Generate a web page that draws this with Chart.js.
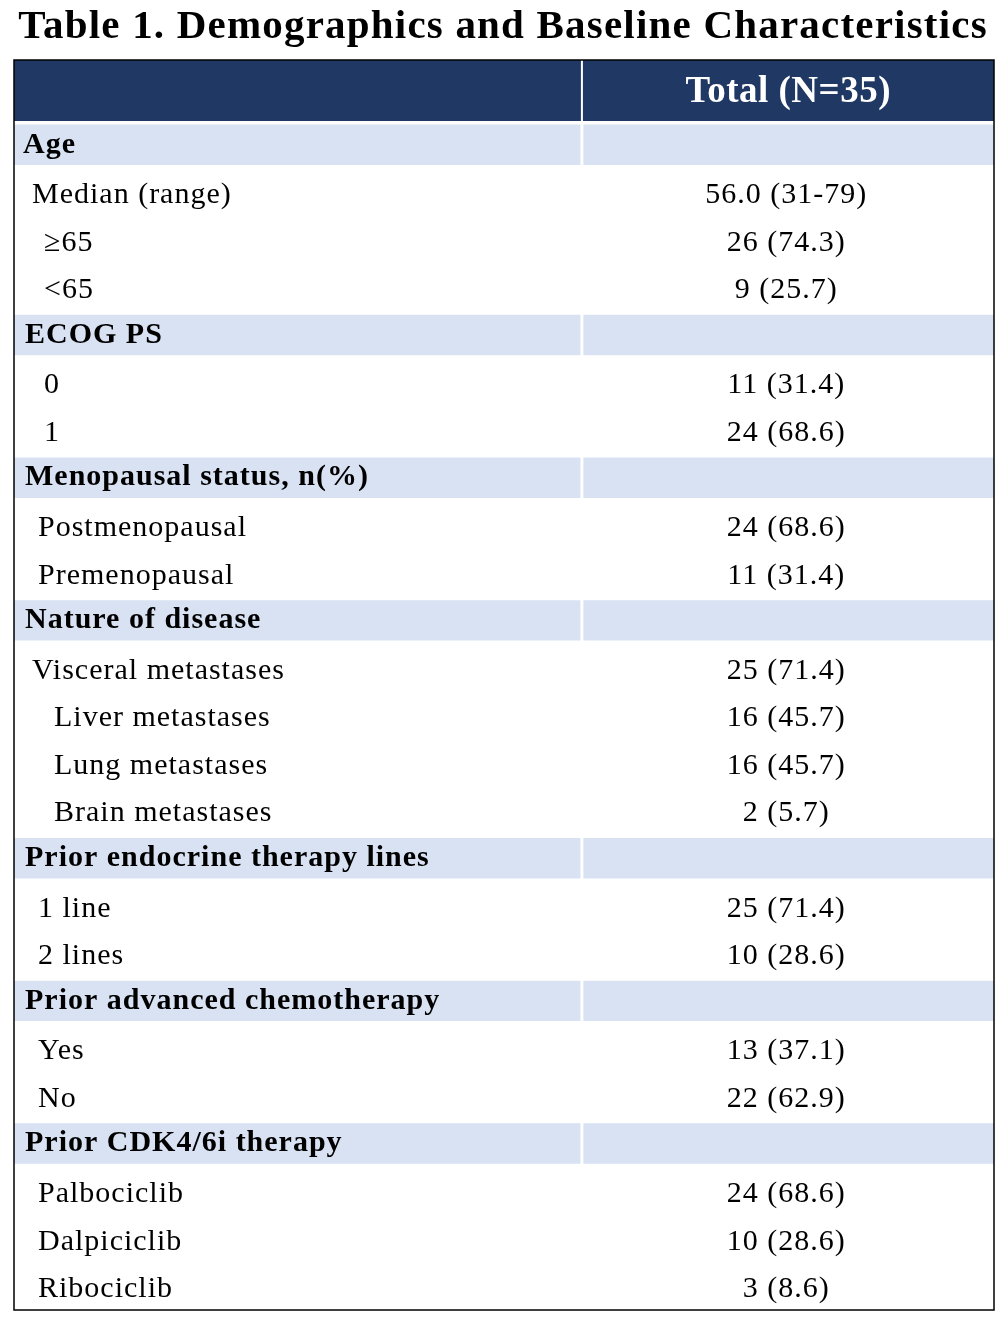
<!DOCTYPE html>
<html><head><meta charset="utf-8">
<script src="https://cdn.jsdelivr.net/npm/chart.js@4/dist/chart.umd.min.js"></script>
<style>html,body{margin:0;padding:0;background:#fff}#wrap{width:1008px;height:1318px;position:relative}</style>
</head><body><div id="wrap"><canvas id="c"></canvas></div>
<script>
const title = "Table 1. Demographics and Baseline Characteristics";
const headerLabel = "Total (N=35)";
const rowLabels = ["Age","Median (range)","≥65","<65","ECOG PS","0","1","Menopausal status, n(%)","Postmenopausal","Premenopausal","Nature of disease","Visceral metastases","Liver metastases","Lung metastases","Brain metastases","Prior endocrine therapy lines","1 line","2 lines","Prior advanced chemotherapy","Yes","No","Prior CDK4/6i therapy","Palbociclib","Dalpiciclib","Ribociclib"];
const rowValues = ["","56.0 (31-79)","26 (74.3)","9 (25.7)","","11 (31.4)","24 (68.6)","","24 (68.6)","11 (31.4)","","25 (71.4)","16 (45.7)","16 (45.7)","2 (5.7)","","25 (71.4)","10 (28.6)","","13 (37.1)","22 (62.9)","","24 (68.6)","10 (28.6)","3 (8.6)"];
const isSection = [1,0,0,0,1,0,0,1,0,0,1,0,0,0,0,1,0,0,1,0,0,1,0,0,0];
const indent = [0,1,2,2,0,2,2,0,3,3,0,1,4,4,4,0,3,3,0,3,3,0,3,3,3];

const secL = isSection.map(s => s ? [0,0.578] : null);
const secR = isSection.map(s => s ? [0.581,1] : null);

const tablePlugin = {
  id:'tbl',
  beforeDatasetsDraw(chart){
    const {ctx, chartArea:a} = chart;
    ctx.save();
    ctx.fillStyle = '#1f3864';
    ctx.fillRect(a.left, 60, a.right-a.left, a.top-60);
    ctx.restore();
  },
  afterDatasetsDraw(chart){
    const {ctx, chartArea:a, scales} = chart;
    const y = scales.y, x = scales.x;
    ctx.save();
    ctx.fillStyle='#000';
    ctx.font='bold 41px "Liberation Serif"';
    ctx.letterSpacing='1.2px';
    ctx.textAlign='center'; ctx.textBaseline='middle';
    ctx.fillText(title, 503, 27);
    ctx.fillStyle='#fff';
    ctx.font='bold 37px "Liberation Serif"';
    ctx.letterSpacing='0.5px';
    const cx = x.getPixelForValue(0.79);
    ctx.fillText(headerLabel, cx, 92);
    ctx.strokeStyle='#fff'; ctx.lineWidth=2;
    const dx = x.getPixelForValue(0.5795);
    ctx.beginPath(); ctx.moveTo(dx,60); ctx.lineTo(dx,a.top); ctx.stroke();
    rowLabels.forEach((lab,i)=>{
      const py = y.getPixelForValue(i);
      ctx.fillStyle='#000';
      ctx.textBaseline='middle';
      if(isSection[i]){
        ctx.font='bold 30px "Liberation Serif"'; ctx.letterSpacing='1px'; ctx.textAlign='left';
        ctx.fillText(lab, a.left+(i===0?9:11), py);
      } else {
        ctx.font='30px "Liberation Serif"'; ctx.letterSpacing='1px'; ctx.textAlign='left';
        const ind=[0,18,30,24,40][indent[i]];
        ctx.fillText(lab, a.left+ind, py+3);
        ctx.textAlign='center';
        ctx.fillText(rowValues[i], cx-2, py+3);
      }
    });
    ctx.strokeStyle='#000'; ctx.lineWidth=1.5;
    ctx.strokeRect(a.left, 60, a.right-a.left, a.bottom-60);
    ctx.restore();
  }
};

new Chart(document.getElementById('c'),{
  type:'bar',
  data:{labels:rowLabels,datasets:[
    {data:secL,backgroundColor:'#d9e2f3',categoryPercentage:0.85,barPercentage:1,grouped:false},
    {data:secR,backgroundColor:'#d9e2f3',categoryPercentage:0.85,barPercentage:1,grouped:false}
  ]},
  options:{indexAxis:'y',responsive:true,maintainAspectRatio:false,animation:false,
    layout:{padding:{top:121,left:14,right:14,bottom:8}},
    plugins:{legend:{display:false},tooltip:{enabled:false}},
    scales:{x:{display:false,min:0,max:1},y:{display:false}}},
  plugins:[tablePlugin]
});
</script></body></html>
